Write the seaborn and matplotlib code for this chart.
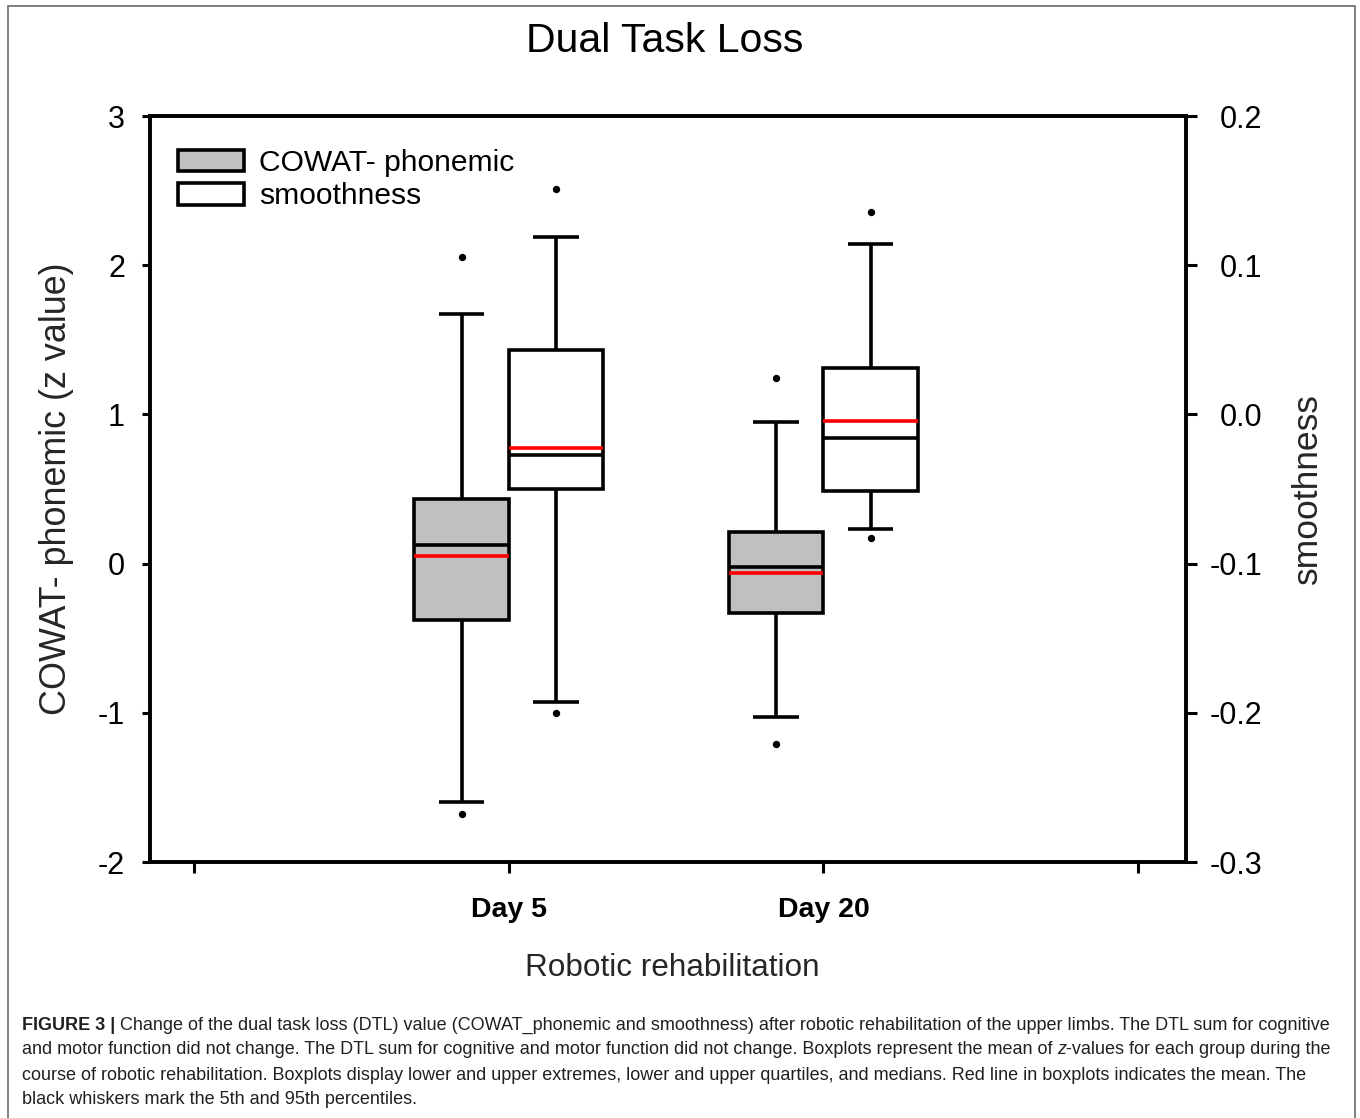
import matplotlib
matplotlib.use("Agg")
import matplotlib.pyplot as plt
import seaborn as sns
import numpy as np
from matplotlib.patches import Patch, Rectangle
from matplotlib.transforms import IdentityTransform
from matplotlib import font_manager as fm

# ---------------- data ----------------
days = ["Day 5", "Day 20"]
x_ticklabels = ["", "Day 5", "Day 20", ""]

cowat_whislo = [-1.598, -1.028]
cowat_q1 = [-0.378, -0.333]
cowat_med = [0.125, -0.023]
cowat_mean = [0.051, -0.063]
cowat_q3 = [0.433, 0.212]
cowat_whishi = [1.673, 0.951]
cowat_out_high = [2.055, 1.244]
cowat_out_low = [-1.678, -1.209]

smooth_whislo = [-0.1928, -0.0768]
smooth_q1 = [-0.0498, -0.0513]
smooth_med = [-0.0272, -0.0158]
smooth_mean = [-0.0227, -0.0044]
smooth_q3 = [0.0432, 0.0311]
smooth_whishi = [0.1189, 0.1142]
smooth_out_high = [0.151, 0.1357]
smooth_out_low = [-0.2001, -0.0828]

left_ticks = [-2, -1, 0, 1, 2, 3]
left_ticklabels = ["-2", "-1", "0", "1", "2", "3"]
right_ticks = [-0.3, -0.2, -0.1, 0.0, 0.1, 0.2]
right_ticklabels = ["-0.3", "-0.2", "-0.1", "0.0", "0.1", "0.2"]

title = "Dual Task Loss"
ylabel_left = "COWAT- phonemic (z value)"
ylabel_right = "smoothness"
xlabel = "Robotic rehabilitation"
legend_labels = ["COWAT- phonemic", "smoothness"]

caption_lines = [
    [("FIGURE 3 |", "bold", "normal"),
     (" Change of the dual task loss (DTL) value (COWAT_phonemic and smoothness) after robotic rehabilitation of the upper limbs. The DTL sum for cognitive", "normal", "normal")],
    [("and motor function did not change. The DTL sum for cognitive and motor function did not change. Boxplots represent the mean of ", "normal", "normal"),
     ("z", "normal", "italic"),
     ("-values for each group during the", "normal", "normal")],
    [("course of robotic rehabilitation. Boxplots display lower and upper extremes, lower and upper quartiles, and medians. Red line in boxplots indicates the mean. The", "normal", "normal")],
    [("black whiskers mark the 5th and 95th percentiles.", "normal", "normal")],
]

# ---------------- style ----------------
sns.set_theme(style="white")
plt.rcParams['font.family'] = ['Liberation Sans', 'DejaVu Sans']
plt.rcParams['axes.edgecolor'] = 'black'
plt.rcParams['text.color'] = 'black'
plt.rcParams['xtick.color'] = 'black'
plt.rcParams['ytick.color'] = 'black'

W, H = 1360, 1118
fig = plt.figure(figsize=(W / 100, H / 100), dpi=100)
fig.patch.set_facecolor('white')

ax = fig.add_axes([150 / W, 1 - 862 / H, 1036 / W, 746 / H])
ax2 = ax.twinx()

centers = np.arange(1, len(days) + 1)
offset = 0.15
box_w = 0.30
cap_w = 0.145
LW = 2.6
gray = '#c0c0c0'


def make_stats(lo, q1, med, mean, q3, hi):
    return [dict(whislo=a, q1=b, med=c, mean=d, q3=e, whishi=f, fliers=[])
            for a, b, c, d, e, f in zip(lo, q1, med, mean, q3, hi)]


common = dict(widths=box_w, capwidths=cap_w, patch_artist=True, showmeans=True,
              meanline=True, showfliers=False, manage_ticks=False,
              medianprops=dict(color='black', linewidth=LW),
              meanprops=dict(color='red', linestyle='-', linewidth=LW),
              whiskerprops=dict(color='black', linewidth=LW, solid_capstyle='butt'),
              capprops=dict(color='black', linewidth=LW, solid_capstyle='butt'))

ax.bxp(make_stats(cowat_whislo, cowat_q1, cowat_med, cowat_mean, cowat_q3, cowat_whishi),
       positions=centers - offset,
       boxprops=dict(facecolor=gray, edgecolor='black', linewidth=LW),
       **common)
ax2.bxp(make_stats(smooth_whislo, smooth_q1, smooth_med, smooth_mean, smooth_q3, smooth_whishi),
        positions=centers + offset,
        boxprops=dict(facecolor='white', edgecolor='black', linewidth=LW),
        **common)

# outliers
sns.scatterplot(x=np.concatenate([centers - offset, centers - offset]),
                y=np.concatenate([cowat_out_high, cowat_out_low]),
                ax=ax, color='black', s=28, linewidth=0, zorder=5, legend=False)
sns.scatterplot(x=np.concatenate([centers + offset, centers + offset]),
                y=np.concatenate([smooth_out_high, smooth_out_low]),
                ax=ax2, color='black', s=28, linewidth=0, zorder=5, legend=False)

# axes limits and ticks
ax.set_xlim(-0.14, 3.152)
ax.set_ylim(-2, 3)
ax2.set_ylim(-0.3, 0.2)

ax.set_xticks(range(len(x_ticklabels)))
ax.set_xticklabels(x_ticklabels, fontweight='bold', fontsize=20.5)
ax.set_yticks(left_ticks)
ax.set_yticklabels(left_ticklabels, fontsize=22)
ax2.set_yticks(right_ticks)
ax2.set_yticklabels(right_ticklabels, fontsize=22, ha='right')

ax.tick_params(axis='x', bottom=True, top=False, direction='out', length=8, width=2.2, pad=17)
ax.tick_params(axis='y', left=True, right=False, direction='out', length=6, width=2.2, pad=12)
ax2.tick_params(axis='y', right=True, left=False, direction='out', length=8, width=2.2, pad=47)
for lbl in ax2.get_yticklabels():
    lbl.set_horizontalalignment('right')

for a in (ax, ax2):
    for s in a.spines.values():
        s.set_visible(True)
        s.set_linewidth(LW)
        s.set_color('black')
    a.grid(False)
ax.set_facecolor('white')

# axis labels
ax.set_ylabel(ylabel_left, fontsize=25.8)
ax.yaxis.label.set_verticalalignment('center')
ax.yaxis.set_label_coords((57 - 150) / 1036, 0.5)
ax2.set_ylabel(ylabel_right, fontsize=25.5)
ax2.yaxis.label.set_verticalalignment('center')
ax2.yaxis.set_label_coords((1307 - 150) / 1036, 0.5)
ax.set_xlabel(xlabel, fontsize=22.7)
ax.xaxis.label.set_verticalalignment('center')
ax.xaxis.set_label_coords((672 - 150) / 1036, (862 - 968) / 746)

# legend
handles = [Patch(facecolor=gray, edgecolor='black', linewidth=LW, label=legend_labels[0]),
           Patch(facecolor='white', edgecolor='black', linewidth=LW, label=legend_labels[1])]
ax2.legend(handles=handles, loc='upper left', bbox_to_anchor=(178 / W, 1 - 149 / H),
           bbox_transform=fig.transFigure, frameon=False, fontsize=21.6,
           handlelength=2.2, handleheight=0.74, handletextpad=0.5,
           labelspacing=0.18, borderpad=0, borderaxespad=0)

# title
fig.text(665 / W, 1 - 41 / H, title, fontsize=29.5, ha='center', va='center')

# outer border
fig.add_artist(Rectangle((8 / W, -0.02), (1355 - 8) / W, (H - 6) / H + 0.02,
                         transform=fig.transFigure, fill=False,
                         edgecolor='#6a6a6a', linewidth=1.2))

# caption
names = {f.name for f in fm.fontManager.ttflist}
cap_family = 'Liberation Sans Narrow' if 'Liberation Sans Narrow' in names else 'Liberation Sans'
renderer = fig.canvas.get_renderer()
cap_color = '#231f20'


def text_w(s, size, weight='normal', style='normal'):
    t = fig.text(0, 0, s, fontsize=size, fontweight=weight, fontstyle=style,
                 family=cap_family, transform=IdentityTransform())
    w = t.get_window_extent(renderer).width
    t.remove()
    return w


def line_width(segs, size):
    sp = text_w("x x", size) - text_w("xx", size)
    total = 0
    for txt, wt, st in segs:
        lead = len(txt) - len(txt.lstrip(' '))
        trail = len(txt) - len(txt.rstrip(' '))
        total += sp * (lead + trail) + text_w(txt.strip(' '), size, wt, st)
    return total


base = 13.0
w1 = line_width(caption_lines[0], base)
cap_size = base * (1306 / w1)
space_w = text_w("x x", cap_size) - text_w("xx", cap_size)

line_y = [1025, 1050, 1075, 1100]
for segs, yy in zip(caption_lines, line_y):
    x = 22
    for txt, wt, st in segs:
        lead = len(txt) - len(txt.lstrip(' '))
        trail = len(txt) - len(txt.rstrip(' '))
        x += space_w * lead
        core = txt.strip(' ')
        t = fig.text(x, H - yy, core, fontsize=cap_size, fontweight=wt, fontstyle=st,
                     family=cap_family, color=cap_color, ha='left', va='center',
                     transform=IdentityTransform())
        x += t.get_window_extent(renderer).width + space_w * trail

fig.savefig("out.png", dpi=100, facecolor='white')
